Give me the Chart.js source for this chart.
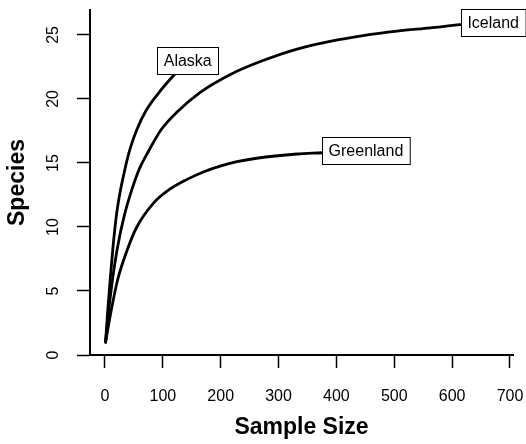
<!DOCTYPE html>
<html lang="en">
<head>
    <meta charset="UTF-8">
    <title>Rarefaction curves</title>
    <style>
        html, body { margin: 0; padding: 0; background: #fff; }
        #wrap { width: 526px; height: 444px; }
    </style>
</head>
<body>
    <div id="wrap"><canvas id="canvas" width="526" height="444"></canvas></div>

<script src="https://cdn.jsdelivr.net/npm/chart.js"></script>
<script>
// sample size / species pairs
const alaskaX = [1, 5, 9, 14, 20, 26, 32, 38, 44, 55, 71, 95, 124, 143];
const alaskaY = [1, 3.6, 5.9, 8.5, 11.0, 12.7, 14.0, 15.2, 16.2, 17.6, 19.1, 20.6, 22.1, 23.0];

const icelandX = [1, 6, 13, 22, 34, 47, 60, 75, 97, 125, 164, 216, 273, 332, 389, 446, 505, 562, 614, 671];
const icelandY = [1, 3.3, 5.9, 8.5, 11.0, 13.0, 14.6, 15.9, 17.6, 19.0, 20.5, 21.9, 23.0, 23.9, 24.5, 24.95, 25.3, 25.55, 25.8, 26.0];

const greenlandX = [1, 10, 22, 40, 55, 83.5, 112, 141, 170, 199, 228, 262, 332, 375, 451];
const greenlandY = [1, 3.3, 5.9, 8.4, 10.0, 11.85, 12.95, 13.7, 14.3, 14.75, 15.1, 15.37, 15.7, 15.8, 16.0];

const siteNames = ['Alaska', 'Iceland', 'Greenland'];
const xTicks = [0, 100, 200, 300, 400, 500, 600, 700];
const yTicks = [0, 5, 10, 15, 20, 25];

const FONT = '"Liberation Sans", Arial, Helvetica, sans-serif';

function pts(xs, ys) {
    return xs.map((x, i) => ({x: x, y: ys[i]}));
}

// white boxed label sitting on the end of each curve
const endLabels = {
    id: 'endLabels',
    afterDatasetsDraw(chart) {
        const ctx = chart.ctx;
        ctx.save();
        ctx.font = '16px ' + FONT;
        chart.data.datasets.forEach((ds, i) => {
            const meta = chart.getDatasetMeta(i);
            const last = meta.data[meta.data.length - 1];
            const w = ctx.measureText(ds.label).width + 13;
            const h = 27;
            const bx = Math.round(last.x - w / 2) + 0.5;
            const by = Math.round(last.y - h / 2) + 0.5;
            ctx.fillStyle = '#fff';
            ctx.fillRect(bx, by, w, h);
            ctx.strokeStyle = '#000';
            ctx.lineWidth = 1;
            ctx.strokeRect(bx, by, w, h);
            ctx.fillStyle = '#000';
            ctx.textAlign = 'center';
            ctx.textBaseline = 'middle';
            ctx.fillText(ds.label, last.x, last.y + 1);
        });
        ctx.restore();
    }
};

const lineStyle = {
    borderColor: '#000',
    borderWidth: 2.8,
    pointRadius: 0,
    fill: false,
    cubicInterpolationMode: 'monotone',
    borderCapStyle: 'round',
    borderJoinStyle: 'round'
};

new Chart(document.getElementById('canvas').getContext('2d'), {
    type: 'line',
    data: {
        datasets: [
            Object.assign({label: siteNames[0], data: pts(alaskaX, alaskaY)}, lineStyle),
            Object.assign({label: siteNames[1], data: pts(icelandX, icelandY)}, lineStyle),
            Object.assign({label: siteNames[2], data: pts(greenlandX, greenlandY)}, lineStyle)
        ]
    },
    options: {
        responsive: false,
        animation: false,
        devicePixelRatio: 1,
        layout: { padding: { top: 10, right: 13, left: 0, bottom: 0 } },
        plugins: {
            legend: { display: false },
            tooltip: { enabled: false }
        },
        scales: {
            x: {
                type: 'linear',
                min: -25.9,
                max: 705.2,
                afterBuildTicks: (s) => { s.ticks = xTicks.map(v => ({value: v})); },
                afterFit: (s) => { s.height = 89; s.paddingLeft = 0; s.paddingRight = 0; },
                grid: { drawOnChartArea: false, drawTicks: true, tickLength: 13, tickColor: '#000', tickWidth: 1.5 },
                border: { display: true, color: '#000', width: 2 },
                ticks: { color: '#000', font: { size: 16, family: FONT }, padding: 19, maxRotation: 0, autoSkip: false },
                title: { display: true, text: 'Sample Size', color: '#000',
                         font: { size: 23, weight: 'bold', family: FONT }, padding: { top: 0, bottom: 3 } }
            },
            y: {
                type: 'linear',
                min: 0,
                max: 26.95,
                afterBuildTicks: (s) => { s.ticks = yTicks.map(v => ({value: v})); },
                afterFit: (s) => { s.width = 90; s.paddingTop = 0; s.paddingBottom = 0; },
                grid: { drawOnChartArea: false, drawTicks: true, tickLength: 13, tickColor: '#000', tickWidth: 1.5 },
                border: { display: true, color: '#000', width: 2 },
                ticks: { color: '#000', font: { size: 16, family: FONT }, padding: 15,
                         minRotation: 90, maxRotation: 90, crossAlign: 'center', autoSkip: false },
                title: { display: true, text: 'Species', color: '#000',
                         font: { size: 23, weight: 'bold', family: FONT }, padding: { top: 4, bottom: 0 } }
            }
        }
    },
    plugins: [endLabels]
});
</script>
</body>
</html>
